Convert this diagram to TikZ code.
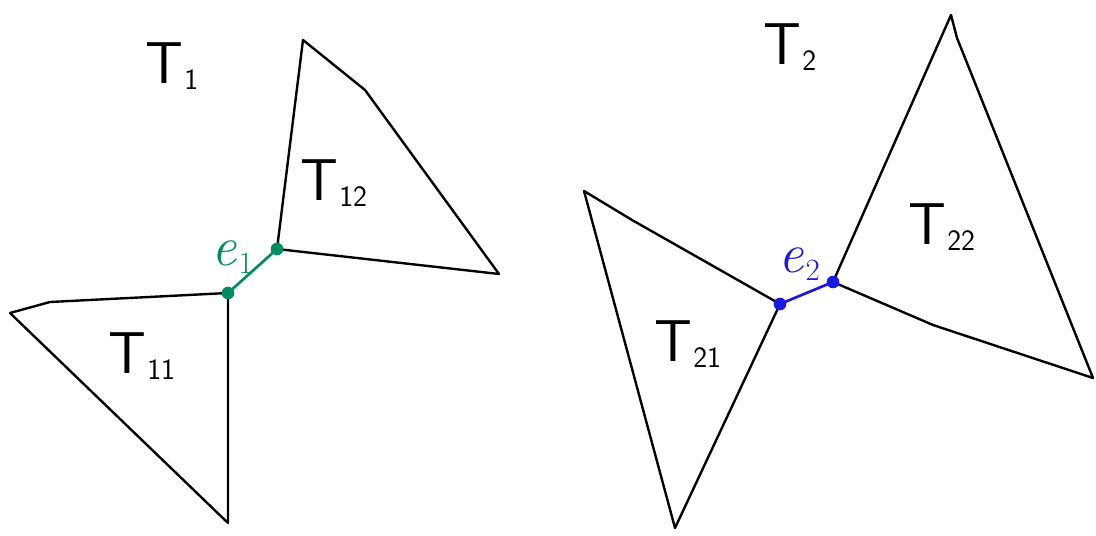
\documentclass[tikz,border=0pt]{standalone}
\usepackage{fontspec}
\usetikzlibrary{positioning}

\definecolor{edgegreen}{RGB}{0,140,95}
\definecolor{edgeblue}{RGB}{25,25,225}

% labels drawn in text mode so they scale freely
\newcommand{\Tlab}[1]{T\kern0.01em\raisebox{-0.25ex}{\fontsize{21}{25}\selectfont #1}}
\newcommand{\elab}[1]{\textit{e}\kern0.03em\raisebox{-0.3ex}{\fontsize{22}{26}\selectfont #1}}

\tikzset{
  tri/.style={draw=black, line width=1.7pt, line join=round},
  shared/.style={line width=1.9pt, line cap=round},
  tlabel/.style={font=\fontsize{42}{48}\selectfont\sffamily, inner sep=0pt},
  elabel/.style={font=\fontsize{40}{46}\selectfont, inner sep=0pt},
  vdot/.style={circle, fill, inner sep=0pt, minimum size=9pt}
}

\begin{document}
\begin{tikzpicture}[x=0.025cm, y=-0.025cm]
	\useasboundingbox (0,0) rectangle (1096,536);
	
	% left pair
	\coordinate (a11) at (10,313);
	\coordinate (k11) at (50,302);
	\coordinate (p1) at (228,293);
	\coordinate (b11) at (228,523);
	\coordinate (q1) at (277,249);
	\coordinate (a12) at (303,40);
	\coordinate (k12) at (365,90);
	\coordinate (b12) at (499,274);
	
	\draw[tri] (a11) -- (k11) -- (p1) -- (b11) -- cycle;
	\draw[tri] (q1) -- (a12) -- (k12) -- (b12) -- cycle;
	\draw[shared, edgegreen] (p1) -- (q1);
	\node[vdot, edgegreen] (d1) at (p1) {};
	\node[vdot, edgegreen] (d2) at (q1) {};
	
	\node[tlabel] (t1) at (172,66) {\Tlab{1}};
	\node[tlabel] (t11) at (142,356) {\Tlab{11}};
	\node[tlabel] (t12) at (334,183) {\Tlab{12}};
	\node[elabel, edgegreen] (e1) at (232,257) {\elab{1}};
	
	% right pair
	\coordinate (a21) at (584,191);
	\coordinate (k21) at (632,220);
	\coordinate (p2) at (780,304);
	\coordinate (b21) at (675,528);
	\coordinate (q2) at (833,282);
	\coordinate (a22) at (951,15);
	\coordinate (k22) at (957,38);
	\coordinate (b22) at (1093,378);
	\coordinate (m22) at (933,325);
	
	\draw[tri] (a21) -- (k21) -- (p2) -- (b21) -- cycle;
	\draw[tri] (q2) -- (a22) -- (k22) -- (b22) -- (m22) -- cycle;
	\draw[shared, edgeblue] (p2) -- (q2);
	\node[vdot, edgeblue] (d3) at (p2) {};
	\node[vdot, edgeblue] (d4) at (q2) {};
	
	\node[tlabel] (t2) at (790,47) {\Tlab{2}};
	\node[tlabel] (t21) at (688,344) {\Tlab{21}};
	\node[tlabel] (t22) at (942,227) {\Tlab{22}};
	\node[elabel, edgeblue] (e2) at (799,264) {\elab{2}};
\end{tikzpicture}
\end{document}
